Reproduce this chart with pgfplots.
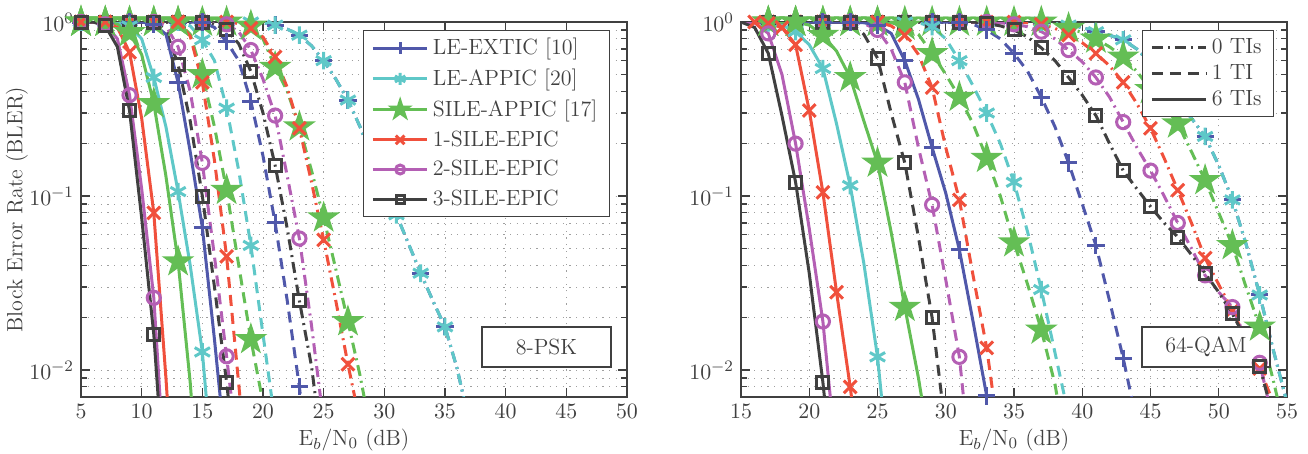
\documentclass[border=0pt]{standalone}
\usepackage{pgfplots}
\pgfplotsset{compat=1.18}
\usepackage{pgfplotstable}

\definecolor{cB}{RGB}{80,88,170}
\definecolor{cC}{RGB}{95,200,200}
\definecolor{cG}{RGB}{100,190,85}
\definecolor{cR}{RGB}{240,80,60}
\definecolor{cM}{RGB}{180,95,180}
\definecolor{cK}{RGB}{64,64,64}

\pgfdeclareplotmark{pentagram}{%
 \pgfpathmoveto{\pgfpointpolar{90}{\pgfplotmarksize}}%
 \pgfpathlineto{\pgfpointpolar{126}{0.382\pgfplotmarksize}}%
 \pgfpathlineto{\pgfpointpolar{162}{\pgfplotmarksize}}%
 \pgfpathlineto{\pgfpointpolar{198}{0.382\pgfplotmarksize}}%
 \pgfpathlineto{\pgfpointpolar{234}{\pgfplotmarksize}}%
 \pgfpathlineto{\pgfpointpolar{270}{0.382\pgfplotmarksize}}%
 \pgfpathlineto{\pgfpointpolar{306}{\pgfplotmarksize}}%
 \pgfpathlineto{\pgfpointpolar{342}{0.382\pgfplotmarksize}}%
 \pgfpathlineto{\pgfpointpolar{18}{\pgfplotmarksize}}%
 \pgfpathlineto{\pgfpointpolar{54}{0.382\pgfplotmarksize}}%
 \pgfpathclose
 \pgfusepathqfillstroke}

% ---------- 8-PSK ----------
\pgfplotstableread{
x  bk     mg     rd     gn     cy     bl
5  1      1      1      1      1      1
6  1      1      1      1      1      1
7  0.95   0.97   1      1      1      1
8  0.72   0.8    0.93   0.97   0.99   1
9  0.31   0.38   0.67   0.87   0.95   1
10 0.075  0.11   0.28   0.65   0.8    1
11 0.016  0.026  0.08   0.34   0.48   0.97
12 0.0016 0.002  0.009  0.13   0.25   0.85
13 nan    nan    0.0008 0.042  0.106  0.45
14 nan    nan    nan    0.0085 0.04   0.18
15 nan    nan    nan    0.001  0.0127 0.066
16 nan    nan    nan    nan    0.002  0.015
17 nan    nan    nan    nan    nan    0.003
}\LS
\pgfplotstableread{
x  bk     mg     rd     gn     cy     bl
5  1      1      1      1      1      1
6  1      1      1      1      1      1
7  1      1      1      1      1      1
8  1      1      1      1      1      1
9  1      1      1      1      1      1
10 1      1      1      1      1      1
11 1      1      1      1      1      1
12 0.9    0.95   1      1      1      1
13 0.57   0.72   1      1      1      1
14 0.27   0.4    0.83   0.85   0.95   1
15 0.1    0.155  0.45   0.5    0.79   1
16 0.03   0.045  0.16   0.25   0.6    0.93
17 0.0085 0.012  0.045  0.108  0.32   0.77
18 0.002  0.003  0.0083 0.04   0.14   0.6
19 nan    nan    0.0015 0.015  0.052  0.35
20 nan    nan    nan    0.0065 0.016  0.17
21 nan    nan    nan    0.002  0.005  0.07
22 nan    nan    nan    nan    nan    0.025
23 nan    nan    nan    nan    nan    0.008
24 nan    nan    nan    nan    nan    0.002
}\LD
\pgfplotstableread{
x  bk     mg     rd     gn     cy
5  1      1      1      1      1
6  1      1      1      1      1
7  1      1      1      1      1
8  1      1      1      1      1
9  1      1      1      1      1
10 1      1      1      1      1
11 1      1      1      1      1
12 1      1      1      1      1
13 1      1      1      1      1
14 1      1      1      1      1
15 1      1      1      1      1
16 0.97   1      1      1      1
17 0.9    0.97   1      1      1
18 0.75   0.88   0.98   1      1
19 0.52   0.69   0.92   0.95   1
20 0.3    0.47   0.82   0.8    0.99
21 0.15   0.29   0.63   0.55   0.96
22 0.065  0.13   0.42   0.4    0.91
23 0.025  0.057  0.245  0.25   0.84
24 0.0105 0.018  0.12   0.14   0.73
25 0.003  0.005  0.056  0.075  0.6
26 nan    nan    0.025  0.038  0.47
27 nan    nan    0.0108 0.019  0.356
28 nan    nan    0.005  0.0093 0.25
29 nan    nan    nan    0.004  0.166
30 nan    nan    nan    nan    0.115
31 nan    nan    nan    nan    0.078
32 nan    nan    nan    nan    0.053
33 nan    nan    nan    nan    0.036
34 nan    nan    nan    nan    0.025
35 nan    nan    nan    nan    0.0177
36 nan    nan    nan    nan    0.0102
37 nan    nan    nan    nan    0.005
}\LDD

% ---------- 64-QAM ----------
\pgfplotstableread{
x  bk     mg     rd     gn     cy     bl
15 1      1      1      1      1      1
16 0.93   0.99   1      1      1      1
17 0.66   0.86   0.98   1      0.99   1
18 0.29   0.5    0.93   1      0.96   1
19 0.12   0.2    0.74   1      0.88   1
20 0.036  0.065  0.31   0.96   0.74   1
21 0.0085 0.019  0.105  0.84   0.54   1
22 0.0015 0.003  0.028  0.68   0.26   1
23 nan    nan    0.008  0.48   0.115  1
24 nan    nan    0.002  0.27   0.041  0.99
25 nan    nan    nan    0.155  0.0119 0.96
26 nan    nan    nan    0.062  0.002  0.86
27 nan    nan    nan    0.023  nan    0.6
28 nan    nan    nan    0.009  nan    0.36
29 nan    nan    nan    0.003  nan    0.19
30 nan    nan    nan    nan    nan    0.104
31 nan    nan    nan    nan    nan    0.049
32 nan    nan    nan    nan    nan    0.019
33 nan    nan    nan    nan    nan    0.0071
34 nan    nan    nan    nan    nan    0.002
}\RS
\pgfplotstableread{
x  bk     mg     rd     gn     cy     bl
15 1      1      1      1      1      1
16 1      1      1      1      1      1
17 1      1      1      1      1      1
18 1      1      1      1      1      1
19 1      1      1      1      1      1
20 1      1      1      1      1      1
21 1      1      1      1      1      1
22 1      1      1      1      1      1
23 1      1      1      1      1      1
24 0.85   0.98   1      1      1      1
25 0.62   0.9    1      1      1      1
26 0.3    0.7    0.95   0.99   1      1
27 0.155  0.45   0.84   0.95   1      1
28 0.058  0.19   0.65   0.85   0.99   1
29 0.02   0.089  0.42   0.66   0.94   1
30 0.0045 0.033  0.19   0.5    0.8    1
31 nan    0.0119 0.095  0.37   0.6    1
32 nan    0.002  0.035  0.26   0.43   0.97
33 nan    nan    0.0134 0.165  0.3    0.9
34 nan    nan    0.0036 0.1    0.2    0.8
35 nan    nan    nan    0.054  0.12   0.66
36 nan    nan    nan    0.031  0.062  0.52
37 nan    nan    nan    0.017  0.029  0.37
38 nan    nan    nan    0.0083 0.0126 0.25
39 nan    nan    nan    0.003  0.0055 0.155
40 nan    nan    nan    nan    nan    0.09
41 nan    nan    nan    nan    nan    0.052
42 nan    nan    nan    nan    nan    0.025
43 nan    nan    nan    nan    nan    0.0117
44 nan    nan    nan    nan    nan    0.005
}\RD
\pgfplotstableread{
x  bk     mg     rd     gn     cy
15 1      1      1      1      1
16 1      1      1      1      1
17 1      1      1      1      1
18 1      1      1      1      1
19 1      1      1      1      1
20 1      1      1      1      1
21 1      1      1      1      1
22 1      1      1      1      1
23 1      1      1      1      1
24 1      1      1      1      1
25 1      1      1      1      1
26 1      1      1      1      1
27 1      1      1      1      1
28 1      1      1      1      1
29 1      1      1      1      1
30 1      1      1      1      1
31 1      1      1      1      1
32 1      1      1      1      1
33 0.98   1      1      1      1
34 0.95   0.99   1      1      1
35 0.9    0.97   1      1      1
36 0.82   0.94   0.99   1      1
37 0.71   0.88   0.97   1      1
38 0.6    0.8    0.92   0.98   0.99
39 0.48   0.69   0.84   0.92   0.96
40 0.38   0.59   0.76   0.87   0.93
41 0.29   0.48   0.66   0.8    0.88
42 0.2    0.37   0.56   0.72   0.84
43 0.14   0.266  0.45   0.63   0.79
44 0.11   0.19   0.34   0.52   0.7
45 0.087  0.14   0.245  0.41   0.58
46 0.07   0.1    0.165  0.33   0.46
47 0.058  0.07   0.108  0.26   0.35
48 0.046  0.05   0.07   0.18   0.28
49 0.036  0.035  0.044  0.123  0.22
50 0.028  0.028  0.031  0.08   0.15
51 0.021  0.023  0.022  0.052  0.095
52 0.015  0.015  0.015  0.03   0.053
53 0.0105 0.011  0.0102 0.0177 0.027
54 0.0053 0.005  0.0065 0.0087 0.013
55 0.0025 nan    0.0035 0.004  0.0065
}\RDD

\pgfplotsset{
 sB/.style={color=cB, mark=+, mark size=4.3pt, mark options={solid}},
 sC/.style={color=cC, mark=asterisk, mark size=4.4pt, mark options={solid}},
 sG/.style={color=cG, mark=pentagram, mark size=6.2pt, mark options={solid, fill=cG}},
 sR/.style={color=cR, mark=x, mark size=4.5pt, mark options={solid}},
 sM/.style={color=cM, mark=o, mark size=3.3pt, mark options={solid}},
 sK/.style={color=cK, mark=square, mark size=3pt, mark options={solid}},
 lS/.style={solid},
 lD/.style={dash pattern=on 5.5pt off 3.5pt},
 lDD/.style={dash pattern=on 5.5pt off 2.5pt on 1pt off 2.5pt},
 every axis/.append style={
  anchor=south west, scale only axis, width=273pt, height=187.5pt,
  ymin=0.007, ymax=1,
  grid=both,
  major grid style={dash pattern=on 0.6pt off 2.7pt, gray!75, line width=0.45pt},
  minor grid style={dash pattern=on 0.6pt off 2.7pt, gray!75, line width=0.45pt},
  axis line style={cK, line width=0.6pt},
  tick style={cK, line width=0.6pt},
  tick align=inside,
  tick label style={font=\fontsize{11}{13}\selectfont, color=cK},
  legend cell align=left,
  legend style={draw=cK, fill=white, font=\fontsize{11}{13}\selectfont, text=cK, line width=0.6pt, inner xsep=4pt, inner ysep=2pt},
 },
 every axis x label/.style={at={(axis description cs:0.5,-0.1147)}, anchor=center, font=\fontsize{11}{13}\selectfont, color=cK},
 every axis y label/.style={at={(axis description cs:-0.1172,0.5)}, rotate=90, anchor=center, font=\fontsize{11}{13}\selectfont, color=cK},
 every axis plot/.append style={line width=1.5pt,
   legend image code/.code={\draw[mark repeat=2,mark phase=2,every mark/.append style={scale=0.68}] plot coordinates {(0cm,0cm) (0.48cm,0cm) (0.96cm,0cm)};}},
}

\begin{document}
\begin{tikzpicture}
\useasboundingbox (0,0) rectangle (654pt,227pt);
\begin{semilogyaxis}[at={(40.5pt,28.5pt)}, xmin=5, xmax=50, xtick={5,10,...,50},
  xlabel={E$_b$/N$_0$ (dB)}, ylabel={Block Error Rate (BLER)},
  legend style={at={(0.516,0.979)}, anchor=north west, row sep=1.6pt}]
% 0 TIs
\addplot[sB, lDD, mark repeat=2, forget plot] table[x=x, y=cy] {\LDD};
\addplot[sC, lDD, mark repeat=2, forget plot] table[x=x, y=cy] {\LDD};
\addplot[sG, lDD, mark repeat=2, forget plot] table[x=x, y=gn] {\LDD};
\addplot[sR, lDD, mark repeat=2, forget plot] table[x=x, y=rd] {\LDD};
\addplot[sM, lDD, mark repeat=2, forget plot] table[x=x, y=mg] {\LDD};
\addplot[sK, lDD, mark repeat=2, forget plot] table[x=x, y=bk] {\LDD};
% 1 TI
\addplot[sB, lD, mark repeat=2, forget plot] table[x=x, y=bl] {\LD};
\addplot[sC, lD, mark repeat=2, forget plot] table[x=x, y=cy] {\LD};
\addplot[sG, lD, mark repeat=2, forget plot] table[x=x, y=gn] {\LD};
\addplot[sR, lD, mark repeat=2, forget plot] table[x=x, y=rd] {\LD};
\addplot[sM, lD, mark repeat=2, forget plot] table[x=x, y=mg] {\LD};
\addplot[sK, lD, mark repeat=2, forget plot] table[x=x, y=bk] {\LD};
% 6 TIs
\addplot[sB, lS, mark repeat=2] table[x=x, y=bl] {\LS};
\addplot[sC, lS, mark repeat=2] table[x=x, y=cy] {\LS};
\addplot[sG, lS, mark repeat=2] table[x=x, y=gn] {\LS};
\addplot[sR, lS, mark repeat=2] table[x=x, y=rd] {\LS};
\addplot[sM, lS, mark repeat=2] table[x=x, y=mg] {\LS};
\addplot[sK, lS, mark repeat=2] table[x=x, y=bk] {\LS};
\legend{LE-EXTIC [10], LE-APPIC [20], SILE-APPIC [17], 1-SILE-EPIC, 2-SILE-EPIC, 3-SILE-EPIC}
\node[draw=cK, fill=white, line width=0.6pt, minimum width=64.5pt, minimum height=20pt,
  font=\fontsize{11}{13}\selectfont, text=cK] at (rel axis cs:0.8526,0.1333) {8-PSK};
\end{semilogyaxis}

\begin{semilogyaxis}[at={(370.5pt,28.5pt)}, xmin=15, xmax=55, xtick={15,20,...,55},
  xlabel={E$_b$/N$_0$ (dB)},
  legend style={at={(0.734,0.979)}, anchor=north west}]
\addlegendimage{cK, lDD, line width=1.5pt}
\addlegendimage{cK, lD, line width=1.5pt}
\addlegendimage{cK, lS, line width=1.5pt}
% 0 TIs
\addplot[sB, lDD, mark repeat=2, mark phase=3, forget plot] table[x=x, y=cy] {\RDD};
\addplot[sC, lDD, mark repeat=2, mark phase=3, forget plot] table[x=x, y=cy] {\RDD};
\addplot[sG, lDD, mark repeat=2, mark phase=3, forget plot] table[x=x, y=gn] {\RDD};
\addplot[sR, lDD, mark repeat=2, mark phase=3, forget plot] table[x=x, y=rd] {\RDD};
\addplot[sM, lDD, mark repeat=2, mark phase=3, forget plot] table[x=x, y=mg] {\RDD};
\addplot[sK, lDD, mark repeat=2, mark phase=3, forget plot] table[x=x, y=bk] {\RDD};
% 1 TI
\addplot[sB, lD, mark repeat=2, mark phase=3, forget plot] table[x=x, y=bl] {\RD};
\addplot[sC, lD, mark repeat=2, mark phase=3, forget plot] table[x=x, y=cy] {\RD};
\addplot[sG, lD, mark repeat=2, mark phase=3, forget plot] table[x=x, y=gn] {\RD};
\addplot[sR, lD, mark repeat=2, mark phase=3, forget plot] table[x=x, y=rd] {\RD};
\addplot[sM, lD, mark repeat=2, mark phase=3, forget plot] table[x=x, y=mg] {\RD};
\addplot[sK, lD, mark repeat=2, mark phase=3, forget plot] table[x=x, y=bk] {\RD};
% 6 TIs
\addplot[sB, lS, mark repeat=2, mark phase=3, forget plot] table[x=x, y=bl] {\RS};
\addplot[sC, lS, mark repeat=2, mark phase=3, forget plot] table[x=x, y=cy] {\RS};
\addplot[sG, lS, mark repeat=2, mark phase=3, forget plot] table[x=x, y=gn] {\RS};
\addplot[sR, lS, mark repeat=1, mark phase=2, forget plot] table[x=x, y=rd] {\RS};
\addplot[sM, lS, mark repeat=2, mark phase=3, forget plot] table[x=x, y=mg] {\RS};
\addplot[sK, lS, mark repeat=2, mark phase=3, forget plot] table[x=x, y=bk] {\RS};
\legend{0 TIs, 1 TI, 6 TIs}
\node[draw=cK, fill=white, line width=0.6pt, minimum width=64pt, minimum height=20pt,
  font=\fontsize{11}{13}\selectfont, text=cK] at (rel axis cs:0.8516,0.1333) {64-QAM};
\end{semilogyaxis}
\end{tikzpicture}
\end{document}
